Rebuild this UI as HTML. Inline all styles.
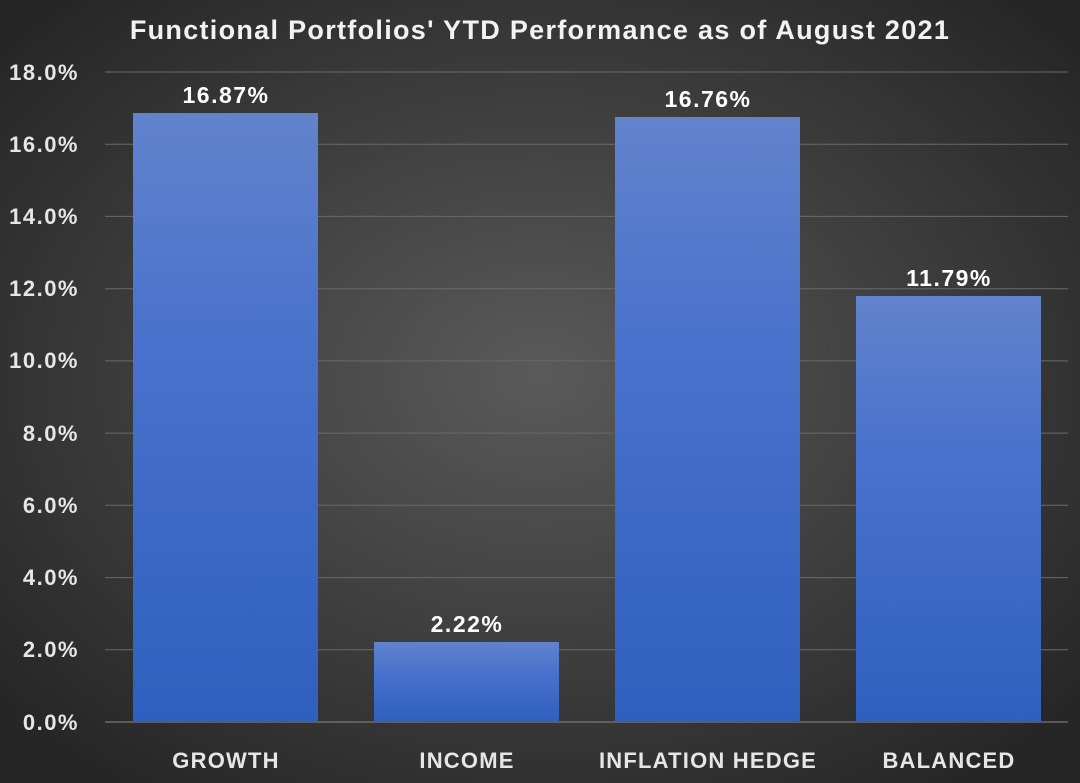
<!DOCTYPE html>
<html><head><style>
html,body{margin:0;padding:0;background:#333;}
svg{display:block;font-family:"Liberation Sans",sans-serif;font-weight:bold;}
</style></head><body>
<svg width="1080" height="783" viewBox="0 0 1080 783" xmlns="http://www.w3.org/2000/svg">
<defs>
<radialGradient id="bg" cx="50%" cy="48%" r="65%">
<stop offset="0" stop-color="#5a5a5a"/>
<stop offset="1" stop-color="#262626"/>
</radialGradient>
<linearGradient id="bar" x1="0" y1="0" x2="0" y2="1">
<stop offset="0" stop-color="#6283cc"/>
<stop offset="0.35" stop-color="#4a73cc"/>
<stop offset="1" stop-color="#2f5fbf"/>
</linearGradient>
</defs>
<rect width="1080" height="783" fill="url(#bg)"/>
<text x="540" y="39" fill="#f2f2f2" font-size="27" letter-spacing="1.3" text-anchor="middle">Functional Portfolios' YTD Performance as of August 2021</text>
<g stroke="#6a6a6a" stroke-width="1">
<line x1="105" x2="1068" y1="72" y2="72"/>
<line x1="105" x2="1068" y1="144.2" y2="144.2"/>
<line x1="105" x2="1068" y1="216.4" y2="216.4"/>
<line x1="105" x2="1068" y1="288.7" y2="288.7"/>
<line x1="105" x2="1068" y1="360.9" y2="360.9"/>
<line x1="105" x2="1068" y1="433.1" y2="433.1"/>
<line x1="105" x2="1068" y1="505.3" y2="505.3"/>
<line x1="105" x2="1068" y1="577.6" y2="577.6"/>
<line x1="105" x2="1068" y1="649.8" y2="649.8"/>
</g>
<line x1="105" x2="1068" y1="722" y2="722" stroke="#8a8a8a" stroke-width="1"/>
<g fill="#e6e6e6" font-size="22" letter-spacing="1.5" text-anchor="end">
<text x="79" y="80">18.0%</text>
<text x="79" y="152">16.0%</text>
<text x="79" y="224">14.0%</text>
<text x="79" y="296">12.0%</text>
<text x="79" y="368">10.0%</text>
<text x="79" y="441">8.0%</text>
<text x="79" y="513">6.0%</text>
<text x="79" y="585">4.0%</text>
<text x="79" y="657">2.0%</text>
<text x="79" y="730">0.0%</text>
</g>
<g fill="url(#bar)">
<rect x="133" y="113" width="185" height="609"/>
<rect x="374" y="642" width="185" height="80"/>
<rect x="615" y="117" width="185" height="605"/>
<rect x="856" y="296" width="185" height="426"/>
</g>
<g fill="#ffffff" font-size="23" letter-spacing="1.5" text-anchor="middle">
<text x="226" y="103">16.87%</text>
<text x="467" y="632">2.22%</text>
<text x="708" y="107">16.76%</text>
<text x="949" y="286">11.79%</text>
</g>
<g fill="#e6e6e6" font-size="22" letter-spacing="1.2" text-anchor="middle">
<text x="226" y="768">GROWTH</text>
<text x="467" y="768">INCOME</text>
<text x="708" y="768">INFLATION HEDGE</text>
<text x="949" y="768">BALANCED</text>
</g>
</svg>
</body></html>
